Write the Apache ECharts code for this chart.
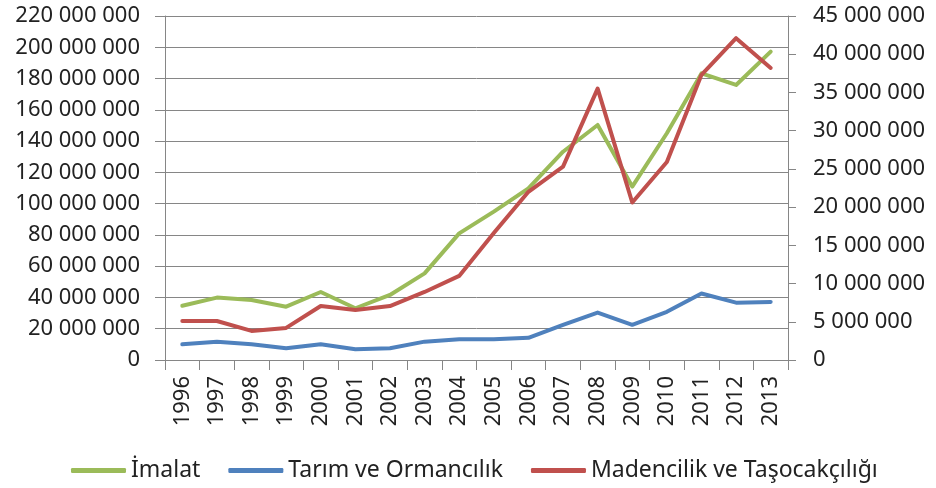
<!DOCTYPE html>
<html>
<head>
	<meta charset="utf-8">
	<title>İhracat</title>
	<script src="https://cdn.jsdelivr.net/npm/echarts@6/dist/echarts.min.js"></script>
	<style type="text/css">
		* {
			padding: 0;
			margin: 0;
		}
		#chart {
			width: 936px;
			height: 488px;
			background: #fff;
		}
	</style>
</head>
<body>
	<div id="chart"></div>
	<script type="text/javascript">
		var years = ['1996','1997','1998','1999','2000','2001','2002','2003','2004','2005','2006','2007','2008','2009','2010','2011','2012','2013'];
		// left axis
		var imalat = [34700000, 39900000, 38400000, 34100000, 43500000, 33100000, 41600000, 55400000, 81000000, 94900000, 109800000, 133200000, 150300000, 110900000, 145000000, 183300000, 175900000, 197200000];
		// right axis
		var tarim = [2050000, 2400000, 2050000, 1530000, 2050000, 1400000, 1530000, 2400000, 2700000, 2700000, 2900000, 4600000, 6200000, 4600000, 6300000, 8700000, 7500000, 7600000];
		var madencilik = [5100000, 5100000, 3800000, 4200000, 7060000, 6540000, 7060000, 8900000, 11000000, 16600000, 22000000, 25300000, 35500000, 20600000, 25900000, 37300000, 42100000, 38200000];

		var font = 'Noto Sans';
		var gridColor = '#868686';

		function fmt(v) {
			return String(v).replace(/\B(?=(\d{3})+(?!\d))/g, ' ');
		}

		var chart = echarts.init(document.getElementById('chart'));
		chart.setOption({
			animation: false,
			textStyle: { fontFamily: font },
			grid: {
				left: 165,
				right: 148,
				top: 16,
				bottom: 128,
				containLabel: false
			},
			legend: {
				left: 66,
				top: 454,
				itemWidth: 55,
				itemHeight: 5,
				itemGap: 28,
				icon: 'roundRect',
				textStyle: { fontFamily: font, fontSize: 23, color: '#222' },
				data: ['İmalat', 'Tarım ve Ormancılık', 'Madencilik ve Taşocakçılığı']
			},
			xAxis: {
				type: 'category',
				data: years,
				boundaryGap: true,
				axisLine: { lineStyle: { color: gridColor, width: 1 } },
				axisTick: { show: true, length: 10, lineStyle: { color: gridColor } },
				axisLabel: {
					rotate: 90,
					margin: 16,
					fontSize: 22,
					color: '#222',
					fontFamily: font
				}
			},
			yAxis: [
				{
					type: 'value',
					min: 0,
					max: 220000000,
					interval: 20000000,
					axisLine: { show: true, lineStyle: { color: gridColor } },
					axisTick: { show: true, length: 10, lineStyle: { color: gridColor } },
					splitLine: { show: true, lineStyle: { color: gridColor, width: 1 } },
					axisLabel: {
						margin: 25,
						fontSize: 22,
						color: '#222',
						fontFamily: font,
						formatter: fmt
					}
				},
				{
					type: 'value',
					min: 0,
					max: 45000000,
					interval: 5000000,
					position: 'right',
					axisLine: { show: true, lineStyle: { color: gridColor } },
					axisTick: { show: true, length: 8, lineStyle: { color: gridColor } },
					splitLine: { show: false },
					axisLabel: {
						margin: 25,
						fontSize: 22,
						color: '#222',
						fontFamily: font,
						formatter: fmt
					}
				}
			],
			series: [
				{
					name: 'İmalat',
					type: 'line',
					yAxisIndex: 0,
					data: imalat,
					symbol: 'none',
					color: '#9BBB59',
					lineStyle: { width: 4, cap: 'round', join: 'round' }
				},
				{
					name: 'Tarım ve Ormancılık',
					type: 'line',
					yAxisIndex: 1,
					data: tarim,
					symbol: 'none',
					color: '#4F81BD',
					lineStyle: { width: 4, cap: 'round', join: 'round' }
				},
				{
					name: 'Madencilik ve Taşocakçılığı',
					type: 'line',
					yAxisIndex: 1,
					data: madencilik,
					symbol: 'none',
					color: '#C0504D',
					lineStyle: { width: 4, cap: 'round', join: 'round' }
				}
			]
		});
	</script>
</body>
</html>
